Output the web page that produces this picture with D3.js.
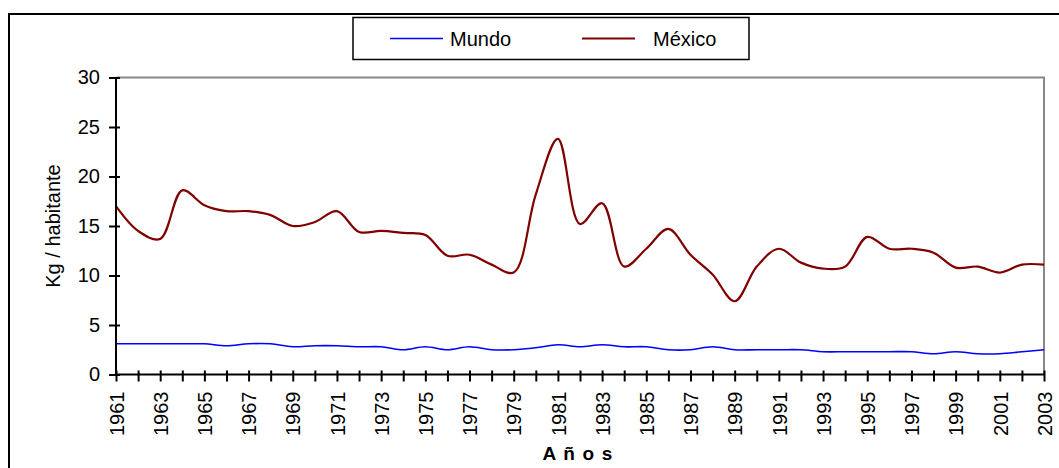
<!DOCTYPE html>
<html>
<head>
<meta charset="utf-8">
<script src="https://cdn.jsdelivr.net/npm/d3@7"></script>
<style>
  html, body { margin: 0; padding: 0; background: #fff; }
  svg { display: block; font-family: Arial, "Liberation Sans", sans-serif; }
</style>
</head>
<body>
<svg id="chart" width="1059" height="468"></svg>
<script>
const years = d3.range(1961, 2004);
const yTicks = [0, 5, 10, 15, 20, 25, 30];
const seriesNames = ["Mundo", "México"];
const mundo = [3.1, 3.1, 3.1, 3.1, 3.1, 2.9, 3.1, 3.1, 2.8, 2.9,
               2.9, 2.8, 2.8, 2.5, 2.8, 2.5, 2.8, 2.5, 2.5, 2.7,
               3.0, 2.8, 3.0, 2.8, 2.8, 2.5, 2.5, 2.8, 2.5, 2.5,
               2.5, 2.5, 2.3, 2.3, 2.3, 2.3, 2.3, 2.1, 2.3, 2.1,
               2.1, 2.3, 2.5];
const mexico = [17.0, 14.5, 13.7, 18.6, 17.1, 16.5, 16.5, 16.1, 15.0, 15.4,
                16.5, 14.4, 14.5, 14.3, 14.1, 12.0, 12.1, 11.1, 10.3, 18.2,
                23.8, 15.2, 17.3, 10.9, 12.7, 14.7, 12.1, 10.1, 7.4, 10.9,
                12.7, 11.3, 10.7, 10.9, 13.9, 12.7, 12.7, 12.3, 10.8, 10.9,
                10.3, 11.1, 11.1];
const colors = ["#0000ff", "#800000"];

const svg = d3.select("#chart");
const L = 116, R = 1044, T = 77.5, B = 374.5;

// outer frame
svg.append("rect").attr("x", 9).attr("y", 14).attr("width", 1100).attr("height", 500)
  .attr("fill", "#fff").attr("stroke", "#000").attr("stroke-width", 2);

const x = d3.scalePoint().domain(years).range([L, R]);
const y = d3.scaleLinear().domain([0, 30]).range([B, T]);

// plot area border (top and right, gray)
svg.append("path").attr("d", `M${L},${T}H${R}V${B}`)
  .attr("fill", "none").attr("stroke", "#888").attr("stroke-width", 2);

// lines
const line = d3.line().x((d, i) => x(years[i])).y(d => y(d)).curve(d3.curveCatmullRom.alpha(0.5));
[mundo, mexico].forEach((s, i) => {
  svg.append("path").datum(s).attr("d", line)
    .attr("fill", "none").attr("stroke", colors[i]).attr("stroke-width", i === 0 ? 1.6 : 2.2);
});

// y axis
const gy = svg.append("g").attr("transform", `translate(${L},0)`)
  .call(d3.axisLeft(y).tickValues(yTicks).tickSize(7).tickFormat(d3.format("d")));
gy.select(".domain").attr("stroke", "#000").attr("stroke-width", 2).attr("d", `M0,${T}V${B}`);
gy.selectAll(".tick line").attr("x1", 4).attr("x2", -7).attr("stroke-width", 2);
gy.selectAll(".tick text").attr("x", -16).attr("font-size", 20).attr("font-family", "Arial, 'Liberation Sans', sans-serif").attr("fill", "#000");

// x axis
const gx = svg.append("g").attr("transform", `translate(0,${B})`)
  .call(d3.axisBottom(x).tickValues(years).tickSize(7)
    .tickFormat(d => ((d - 1961) % 2 === 0 ? String(d) : "")));
gx.select(".domain").attr("stroke", "#000").attr("stroke-width", 2).attr("d", `M${L},0H${R}`);
gx.selectAll(".tick line").attr("y1", -4).attr("y2", 7).attr("stroke-width", 2);
gx.selectAll(".tick text")
  .attr("transform", "rotate(-90)")
  .attr("x", -17).attr("y", 0).attr("dy", "0.36em")
  .attr("text-anchor", "end")
  .attr("font-size", 20).attr("font-family", "Arial, 'Liberation Sans', sans-serif").attr("fill", "#000");

// axis titles
svg.append("text").attr("transform", `translate(59.5,${(T + B) / 2}) rotate(-90)`)
  .attr("text-anchor", "middle").attr("font-size", 20).text("Kg / habitante");
svg.append("text").attr("x", (L + R) / 2 - 2).attr("y", 460)
  .attr("text-anchor", "middle").attr("font-size", 19).attr("font-weight", "bold")
  .attr("letter-spacing", "1.2px").text("A ñ o s");

// legend
svg.append("rect").attr("x", 353).attr("y", 17.5).attr("width", 396).attr("height", 42)
  .attr("fill", "#fff").attr("stroke", "#000").attr("stroke-width", 1.5);
const legX = [390, 582];
const legTextX = [450, 653];
seriesNames.forEach((n, i) => {
  svg.append("line").attr("x1", legX[i]).attr("x2", legX[i] + 53).attr("y1", 38.5).attr("y2", 38.5)
    .attr("stroke", colors[i]).attr("stroke-width", i === 0 ? 1.6 : 2);
  svg.append("text").attr("x", legTextX[i]).attr("y", 45.5).attr("font-size", 20).text(n);
});
</script>
</body>
</html>
